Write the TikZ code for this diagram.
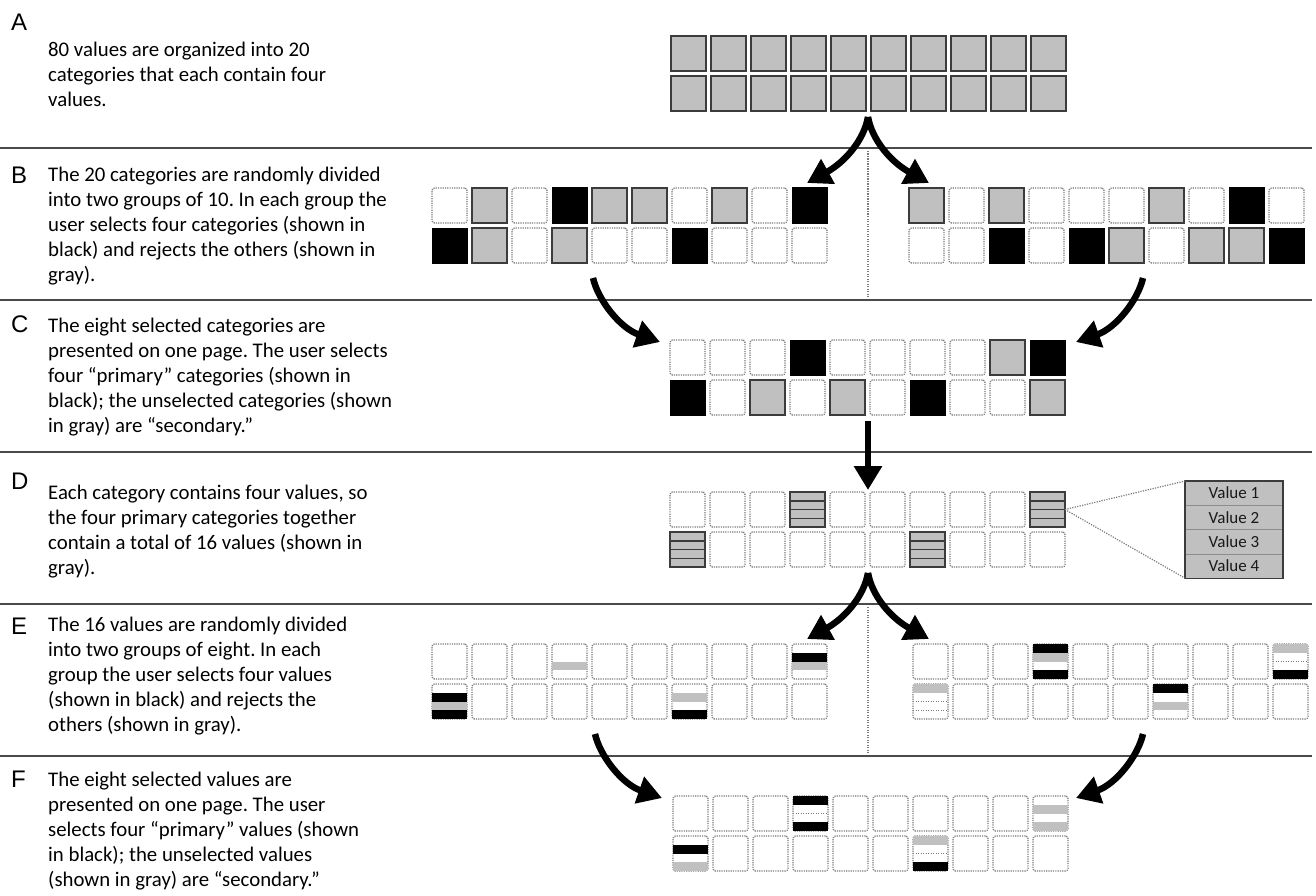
\documentclass[tikz,border=0pt]{standalone}
\usepackage{fontspec}
\setmainfont{Carlito}
\newfontfamily\labelfont{Liberation Sans}
\usetikzlibrary{arrows.meta,calc}
\frenchspacing

\definecolor{cellgray}{HTML}{C0C0C0}
\definecolor{edgegray}{HTML}{3C3C3C}
\definecolor{dotgray}{HTML}{7A7A7A}
\definecolor{rulegray}{HTML}{4A4A4A}
\definecolor{sepgray}{HTML}{8C8C8C}

\tikzset{
  cellbase/.style={minimum size=35pt, inner sep=0pt, outer sep=0pt, anchor=north west},
  catcelle/.style={cellbase, draw=dotgray, line width=1.3pt, dash pattern=on 1.2pt off 1.1pt,
                rounded corners=2.5pt, fill=white},
  catcellg/.style={cellbase, draw=edgegray, line width=1.5pt, fill=cellgray},
  catcellk/.style={cellbase, draw=black, line width=1pt, fill=black},
  catcells/.style={catcellg},
  dotline/.style={dotgray, line width=1.2pt, dash pattern=on 1.2pt off 1.3pt},
  rule/.style={rulegray, line width=1.8pt},
  bigarrow/.style={line width=6.5pt, black, -{Triangle[length=24pt,width=27pt]}},
  panellabel/.style={anchor=base west, inner sep=0pt, font=\labelfont\fontsize{24pt}{24pt}\selectfont},
  paneltext/.style={anchor=north west, inner sep=0pt, align=left,
                    font=\fontsize{20.8pt}{25pt}\selectfont},
  valbox/.style={minimum width=98pt, minimum height=24.3pt, inner sep=0pt, outer sep=0pt,
                 anchor=north west, fill=cellgray, draw=sepgray, line width=0.8pt,
                 font=\fontsize{17pt}{17pt}\selectfont, text=black!90},
}

% one row of ten category cells: name prefix, left x, top y, list of kinds
\newcommand\cellrow[4]{%
  \foreach \t [count=\i] in {#4}{%
    \node[catcell\t] (#1-\i) at ({#2+(\i-1)*40},#3) {};
  }}
% three dark separators splitting a category into its four values
\newcommand\stripes[1]{%
  \foreach \f in {0.25,0.5,0.75}{%
    \draw[edgegray,line width=1.5pt] ($(#1.north west)!\f!(#1.south west)$) -- ($(#1.north east)!\f!(#1.south east)$);
  }}
% a value bar in slot #2 (1..4) of cell #1, filled with colour #3
\newcommand\vbar[3]{%
  \fill[#3] ($(#1.north west)!{(#2-1)/4}!(#1.south west)$) rectangle ($(#1.north east)!{#2/4}!(#1.south east)$);}
% dotted boundary below slot #2 of cell #1
\newcommand\vsep[2]{%
  \draw[dotline,line width=1pt] ($(#1.north west)!{#2/4}!(#1.south west)$) -- ($(#1.north east)!{#2/4}!(#1.south east)$);}

\begin{document}
\begin{tikzpicture}[x=1pt,y=-1pt]
\useasboundingbox (0,0) rectangle (1316,896);

% ---- separating rules ----
\foreach \yy [count=\k] in {148,300,452,604,756}{
  \coordinate (rl\k) at (0,\yy);
  \coordinate (rr\k) at (1312,\yy);
  \draw[rule] (rl\k) -- (rr\k);
}

% ---- panel labels and descriptions ----
\node[panellabel] (lA) at (11,31) {A};
\node[paneltext]  (tA) at (48,42) {80 values are organized into 20\\categories that each contain four\\values.};

\node[panellabel] (lB) at (11,184) {B};
\node[paneltext]  (tB) at (48,167) {The 20 categories are randomly divided\\into two groups of 10. In each group the\\user selects four categories (shown in\\black) and rejects the others (shown in\\gray).};

\node[panellabel] (lC) at (11,332) {C};
\node[paneltext]  (tC) at (48,318) {The eight selected categories are\\presented on one page. The user selects\\four “primary” categories (shown in\\black); the unselected categories (shown\\in gray) are “secondary.”};

\node[panellabel] (lD) at (11,489) {D};
\node[paneltext]  (tD) at (48,484.5) {Each category contains four values, so\\the four primary categories together\\contain a total of 16 values (shown in\\gray).};

\node[panellabel] (lE) at (11,634) {E};
\node[paneltext]  (tE) at (48,616.5) {The 16 values are randomly divided\\into two groups of eight. In each\\group the user selects four values\\(shown in black) and rejects the\\others (shown in gray).};

\node[panellabel] (lF) at (11,787) {F};
\node[paneltext]  (tF) at (48,771.5) {The eight selected values are\\presented on one page. The user\\selects four “primary” values (shown\\in black); the unselected values\\(shown in gray) are “secondary.”};

% ---- A: all twenty categories ----
\cellrow{A1}{671}{36}{g,g,g,g,g,g,g,g,g,g}
\cellrow{A2}{671}{76}{g,g,g,g,g,g,g,g,g,g}

% ---- B: two groups of ten ----
\coordinate (vb0) at (868,151);
\coordinate (vb1) at (868,298);
\draw[dotline] (vb0) -- (vb1);
\cellrow{BL1}{432}{188}{e,g,e,k,g,g,e,g,e,k}
\cellrow{BL2}{432}{228}{k,g,e,g,e,e,k,e,e,e}
\cellrow{BR1}{909}{188}{g,e,g,e,e,e,g,e,k,e}
\cellrow{BR2}{909}{228}{e,e,k,e,k,g,e,g,g,k}

% ---- C: the eight selected categories ----
\cellrow{C1}{670}{340}{e,e,e,k,e,e,e,e,g,k}
\cellrow{C2}{670}{380}{k,e,g,e,g,e,k,e,e,g}

% ---- D: four primary categories with their values ----
\cellrow{D1}{670}{492}{e,e,e,s,e,e,e,e,e,s}
\cellrow{D2}{670}{532}{s,e,e,e,e,e,s,e,e,e}
\stripes{D1-4}\stripes{D1-10}\stripes{D2-1}\stripes{D2-7}

\node[valbox] (val1) at (1185,481) {Value 1};
\node[valbox] (val2) at (val1.south west) {Value 2};
\node[valbox] (val3) at (val2.south west) {Value 3};
\node[valbox] (val4) at (val3.south west) {Value 4};
\draw[edgegray,line width=1.4pt] (val1.north west) rectangle (val4.south east);
\draw[dotline] (D1-10.east) -- (val1.north west);
\draw[dotline] (D1-10.east) -- (val4.south west);

% ---- E: sixteen values in two groups ----
\coordinate (ve0) at (868,607);
\coordinate (ve1) at (868,753);
\draw[dotline] (ve0) -- (ve1);
\cellrow{EL1}{432}{644}{e,e,e,e,e,e,e,e,e,e}
\cellrow{EL2}{432}{684}{e,e,e,e,e,e,e,e,e,e}
\cellrow{ER1}{913}{644}{e,e,e,e,e,e,e,e,e,e}
\cellrow{ER2}{913}{684}{e,e,e,e,e,e,e,e,e,e}
\vbar{EL1-4}{3}{cellgray}
\vbar{EL1-10}{2}{black}\vbar{EL1-10}{3}{cellgray}
\vbar{EL2-1}{2}{black}\vbar{EL2-1}{3}{cellgray}\vbar{EL2-1}{4}{black}
\vbar{EL2-7}{2}{cellgray}\vbar{EL2-7}{4}{black}
\vbar{ER1-4}{1}{black}\vbar{ER1-4}{2}{cellgray}\vbar{ER1-4}{4}{black}
\vsep{ER1-10}{2}\vbar{ER1-10}{1}{cellgray}\vbar{ER1-10}{4}{black}
\vsep{ER2-1}{2}\vsep{ER2-1}{3}\vbar{ER2-1}{1}{cellgray}
\vbar{ER2-7}{1}{black}\vbar{ER2-7}{3}{cellgray}

% ---- F: the eight selected values ----
\cellrow{F1}{673}{796}{e,e,e,e,e,e,e,e,e,e}
\cellrow{F2}{673}{836}{e,e,e,e,e,e,e,e,e,e}
\vsep{F1-4}{2}\vbar{F1-4}{1}{black}\vbar{F1-4}{4}{black}
\vbar{F1-10}{2}{cellgray}\vbar{F1-10}{4}{cellgray}
\vbar{F2-1}{2}{black}\vbar{F2-1}{4}{cellgray}
\vsep{F2-7}{2}\vbar{F2-7}{1}{cellgray}\vbar{F2-7}{4}{black}

% ---- arrows ----
% A splits into the two groups of B
\coordinate (ab0) at (868,117);
\coordinate (abl) at (807,183);
\coordinate (abr) at (929,183);
\draw[bigarrow] (ab0) .. controls (864,140) and (845,162) .. (abl);
\draw[bigarrow] (ab0) .. controls (872,140) and (891,162) .. (abr);
% the groups of B merge into C
\coordinate (bcl) at (593,278);
\coordinate (bcr) at (1143,278);
\coordinate (bctl) at (660,342);
\coordinate (bctr) at (1076,342);
\draw[bigarrow] (bcl) .. controls (598,300) and (620,328) .. (bctl);
\draw[bigarrow] (bcr) .. controls (1138,300) and (1116,328) .. (bctr);
% C to D
\coordinate (cd0) at (868,421);
\coordinate (cd1) at (868,490);
\draw[bigarrow] (cd0) -- (cd1);
% D splits into the two groups of E
\coordinate (de0) at (868,573);
\coordinate (del) at (807,639);
\coordinate (der) at (929,639);
\draw[bigarrow] (de0) .. controls (864,596) and (845,618) .. (del);
\draw[bigarrow] (de0) .. controls (872,596) and (891,618) .. (der);
% the groups of E merge into F
\coordinate (efl) at (595,734);
\coordinate (efr) at (1143,734);
\coordinate (eftl) at (662,798);
\coordinate (eftr) at (1076,798);
\draw[bigarrow] (efl) .. controls (600,756) and (622,784) .. (eftl);
\draw[bigarrow] (efr) .. controls (1138,756) and (1116,784) .. (eftr);
\end{tikzpicture}
\end{document}
